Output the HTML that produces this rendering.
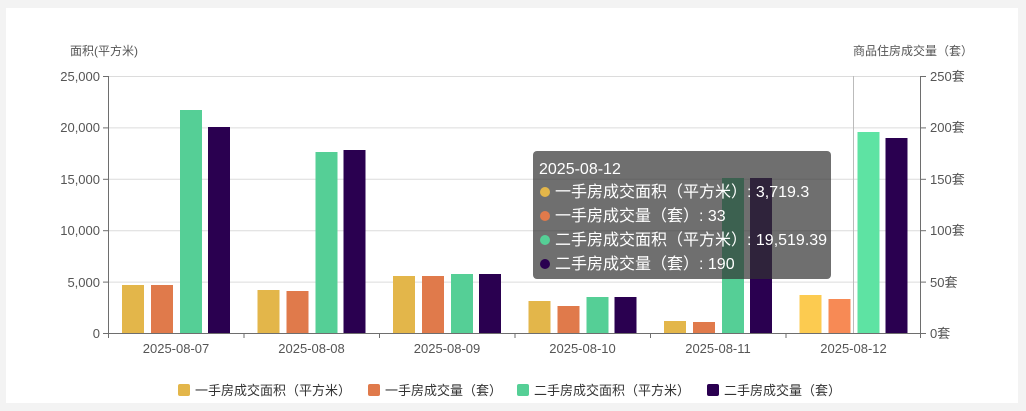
<!DOCTYPE html>
<html><head><meta charset="utf-8"><style>
html,body{margin:0;padding:0;background:#f3f3f3;}
svg{display:block;font-family:"Liberation Sans","Noto Sans CJK SC",sans-serif;}
</style></head><body>
<svg width="1026" height="411" xmlns="http://www.w3.org/2000/svg">
<rect x="0" y="0" width="1026" height="411" fill="#f3f3f3"/>
<rect x="6" y="8" width="1012" height="395" fill="#fff"/>
<g font-size="12" fill="#555">
<text x="70" y="55">面积(平方米)</text>
<text x="853" y="55">商品住房成交量（套）</text>
</g>
<g stroke="#dcdcdc" stroke-width="1">
<line x1="108" x2="921" y1="76.5" y2="76.5"/>
<line x1="108" x2="921" y1="127.9" y2="127.9"/>
<line x1="108" x2="921" y1="179.3" y2="179.3"/>
<line x1="108" x2="921" y1="230.7" y2="230.7"/>
<line x1="108" x2="921" y1="282.1" y2="282.1"/>
</g>
<line x1="853.5" x2="853.5" y1="76" y2="333" stroke="#bbb"/>
<g id="bars">
<rect x="122" y="285" width="22" height="48" fill="#e3b64a"/>
<rect x="151" y="285" width="22" height="48" fill="#e07a4b"/>
<rect x="180" y="110" width="22" height="223" fill="#55cf96"/>
<rect x="208" y="127" width="22" height="206" fill="#2a0050"/>
<rect x="257.5" y="290" width="22" height="43" fill="#e3b64a"/>
<rect x="286.5" y="291" width="22" height="42" fill="#e07a4b"/>
<rect x="315.5" y="152" width="22" height="181" fill="#55cf96"/>
<rect x="343.5" y="150" width="22" height="183" fill="#2a0050"/>
<rect x="393" y="276" width="22" height="57" fill="#e3b64a"/>
<rect x="422" y="276" width="22" height="57" fill="#e07a4b"/>
<rect x="451" y="274" width="22" height="59" fill="#55cf96"/>
<rect x="479" y="274" width="22" height="59" fill="#2a0050"/>
<rect x="528.5" y="301" width="22" height="32" fill="#e3b64a"/>
<rect x="557.5" y="306" width="22" height="27" fill="#e07a4b"/>
<rect x="586.5" y="297" width="22" height="36" fill="#55cf96"/>
<rect x="614.5" y="297" width="22" height="36" fill="#2a0050"/>
<rect x="664" y="321" width="22" height="12" fill="#e3b64a"/>
<rect x="693" y="322" width="22" height="11" fill="#e07a4b"/>
<rect x="722" y="178" width="22" height="155" fill="#55cf96"/>
<rect x="750" y="178" width="22" height="155" fill="#2a0050"/>
<rect x="799.5" y="295" width="22" height="38" fill="#fccb50"/>
<rect x="828.5" y="299" width="22" height="34" fill="#f78a55"/>
<rect x="857.5" y="132" width="22" height="201" fill="#5ee3a3"/>
<rect x="885.5" y="138" width="22" height="195" fill="#2a0050"/>
</g>
<g stroke="#6e6e6e" stroke-width="1">
<line x1="108.5" x2="108.5" y1="76" y2="333"/>
<line x1="920.5" x2="920.5" y1="76" y2="333"/>
<line x1="108" x2="921" y1="333.5" y2="333.5"/>
<line x1="103" x2="108" y1="76.5" y2="76.5"/><line x1="103" x2="108" y1="127.9" y2="127.9"/><line x1="103" x2="108" y1="179.3" y2="179.3"/><line x1="103" x2="108" y1="230.7" y2="230.7"/><line x1="103" x2="108" y1="282.1" y2="282.1"/><line x1="103" x2="108" y1="333.5" y2="333.5"/>
<line x1="921" x2="926" y1="76.5" y2="76.5"/><line x1="921" x2="926" y1="127.9" y2="127.9"/><line x1="921" x2="926" y1="179.3" y2="179.3"/><line x1="921" x2="926" y1="230.7" y2="230.7"/><line x1="921" x2="926" y1="282.1" y2="282.1"/><line x1="921" x2="926" y1="333.5" y2="333.5"/>
<line x1="108.5" x2="108.5" y1="333" y2="338"/><line x1="244" x2="244" y1="333" y2="338"/><line x1="379.5" x2="379.5" y1="333" y2="338"/><line x1="515" x2="515" y1="333" y2="338"/><line x1="650.5" x2="650.5" y1="333" y2="338"/><line x1="786" x2="786" y1="333" y2="338"/><line x1="920.5" x2="920.5" y1="333" y2="338"/>
</g>
<g font-size="13" fill="#555" text-anchor="end">
<text x="100" y="81">25,000</text><text x="100" y="132">20,000</text><text x="100" y="184">15,000</text><text x="100" y="235">10,000</text><text x="100" y="287">5,000</text><text x="100" y="338">0</text>
</g>
<g font-size="13" fill="#555">
<text x="930" y="81">250套</text><text x="930" y="132">200套</text><text x="930" y="184">150套</text><text x="930" y="235">100套</text><text x="930" y="287">50套</text><text x="930" y="338">0套</text>
</g>
<g font-size="13" fill="#555" text-anchor="middle">
<text x="176" y="353">2025-08-07</text><text x="311.5" y="353">2025-08-08</text><text x="447" y="353">2025-08-09</text><text x="582.5" y="353">2025-08-10</text><text x="718" y="353">2025-08-11</text><text x="853.5" y="353">2025-08-12</text>
</g>
<g font-size="13" fill="#333">
<rect x="178" y="384" width="12" height="12" rx="2" fill="#e3b64a"/><text x="195" y="395">一手房成交面积（平方米）</text>
<rect x="368" y="384" width="12" height="12" rx="2" fill="#e07a4b"/><text x="385" y="395">一手房成交量（套）</text>
<rect x="517" y="384" width="12" height="12" rx="2" fill="#55cf96"/><text x="534" y="395">二手房成交面积（平方米）</text>
<rect x="707" y="384" width="12" height="12" rx="2" fill="#2a0050"/><text x="724" y="395">二手房成交量（套）</text>
</g>
<rect x="533" y="151" width="298" height="128" rx="4" fill="rgba(50,50,50,0.7)"/>
<g font-size="16" fill="#fff">
<text x="539" y="174">2025-08-12</text>
<circle cx="545" cy="192" r="5" fill="#e3b64a"/><text x="555" y="197">一手房成交面积（平方米）: 3,719.3</text>
<circle cx="545" cy="216" r="5" fill="#e07a4b"/><text x="555" y="221">一手房成交量（套）: 33</text>
<circle cx="545" cy="240" r="5" fill="#55cf96"/><text x="555" y="245">二手房成交面积（平方米）: 19,519.39</text>
<circle cx="545" cy="264" r="5" fill="#2a0050"/><text x="555" y="269">二手房成交量（套）: 190</text>
</g>
</svg>
</body></html>
